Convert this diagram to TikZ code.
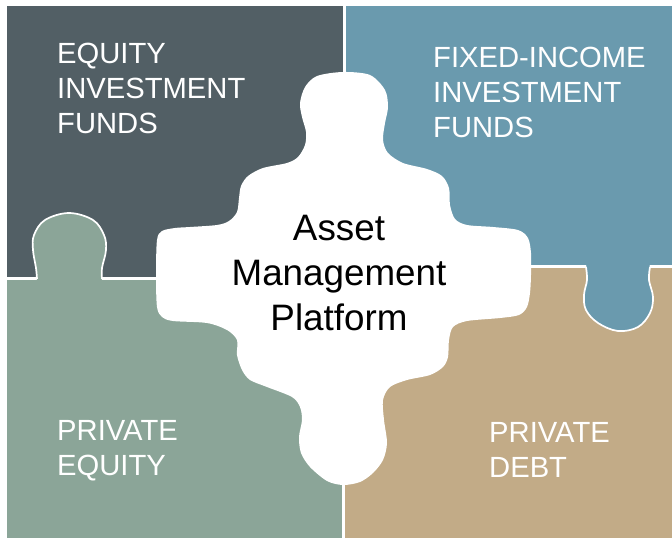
\documentclass[tikz,border=0pt]{standalone}
\usepackage{fontspec}
\setmainfont{Liberation Sans}
\definecolor{cTL}{HTML}{525F65}
\definecolor{cTR}{HTML}{6A9AAE}
\definecolor{cBL}{HTML}{8BA598}
\definecolor{cBR}{HTML}{C2AB87}
\tikzset{
  label/.style={text=white, inner sep=0pt, anchor=north west, align=left,
    font=\fontsize{29.2}{35}\selectfont},
  centerlabel/.style={text=black, inner sep=0pt, anchor=north, align=center,
    font=\fontsize{36.8}{45}\selectfont},
  knobline/.style={draw=white, line width=1.7pt},
}
\begin{document}
\begin{tikzpicture}[x=1pt,y=-1pt]
\useasboundingbox (0,0) rectangle (672,538);
\fill[white] (0,0) rectangle (672,538);
% four pieces
\fill[cTL] (7,6) rectangle (343,277);
\fill[cTR] (346,6) rectangle (672,265);
\fill[cBL] (7,280) rectangle (342,538);
\fill[cBR] (345,268) rectangle (672,538);
% green knob (private equity) into the top-left piece
\fill[cBL] plot[smooth, tension=0.6] coordinates {(37,282) (36,268) (33,250) (34,235) (45,220) (69,213) (93,220) (104,235) (106,250) (102,268) (102,282)} -- cycle;
\draw[knobline] plot[smooth, tension=0.6] coordinates {(37,279) (36,268) (33,250) (34,235) (45,220) (69,213) (93,220) (104,235) (106,250) (102,268) (102,279)};
% blue knob (fixed income) into the bottom-right piece
\fill[cTR] plot[smooth, tension=0.6] coordinates {(586,263) (587,280) (584,295) (586,310) (598,323) (618,331) (638,327) (650,313) (653,297) (649,280) (650,263)} -- cycle;
\draw[knobline] plot[smooth, tension=0.6] coordinates {(586,267) (587,280) (584,295) (586,310) (598,323) (618,331) (638,327) (650,313) (653,297) (649,280) (650,267)};
% central white piece
\fill[white] plot[smooth cycle, tension=0.5] coordinates {
 (343,72) (370,75) (385,90) (388,107) (385,123) (383,140) (388,153) (403,163)
 (427,169) (442,176) (449,188) (450,205) (455,219) (467,225) (493,227) (518,230)
 (528,238) (531,253) (531,275) (530,293) (527,307) (519,315) (500,318) (467,321)
 (453,327) (449,340) (448,357) (443,367) (430,375) (407,380) (390,387) (383,400)
 (384,420) (387,443) (383,460) (373,473) (360,482) (343,485) (327,481) (310,467)
 (301,453) (299,437) (302,420) (300,407) (292,397) (267,387) (250,380) (242,370)
 (237,355) (237,340) (227,330) (207,323) (173,321) (162,317) (157,307) (156,275)
 (157,240) (162,231) (175,228) (190,227) (217,225) (229,221) (237,212) (239,198)
 (241,186) (248,176) (263,168) (287,163) (298,157) (305,145) (306,132) (302,117)
 (300,103) (305,87) (317,76)};
% labels
\node[label] (eq) at (57,43) {EQUITY\\INVESTMENT\\FUNDS};
\node[label] (fi) at (433,47) {FIXED-INCOME\\INVESTMENT\\FUNDS};
\node[label] (pe) at (57,420) {PRIVATE\\EQUITY};
\node[label] (pd) at (489,422) {PRIVATE\\DEBT};
\node[centerlabel] (amp) at (339,215) {Asset\\Management\\Platform};
\end{tikzpicture}
\end{document}
